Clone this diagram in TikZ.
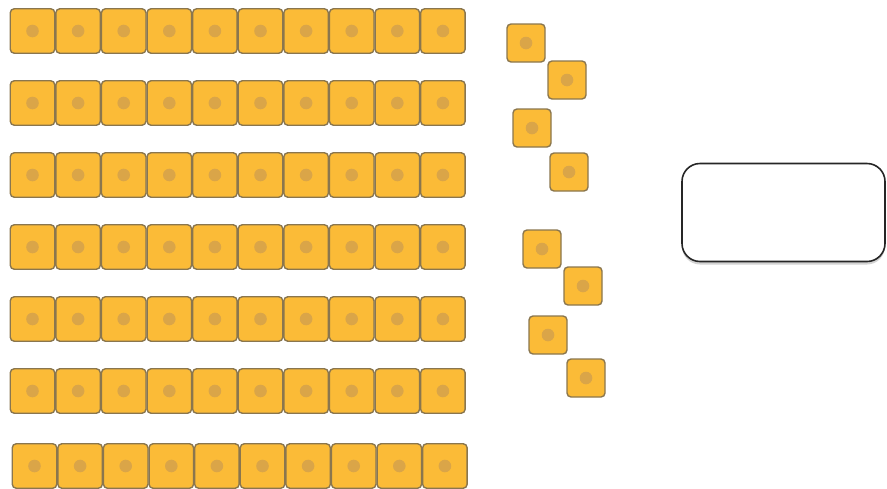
\documentclass[tikz,border=0pt]{standalone}
\usetikzlibrary{shadows}
\definecolor{tilefill}{RGB}{251,187,55}
\definecolor{tileedge}{RGB}{138,118,78}
\definecolor{tiledot}{RGB}{218,165,72}
\tikzset{
  tile/.style={rectangle, rounded corners=4pt, draw=tileedge, fill=tilefill,
    line width=1.4pt, minimum width=#1, minimum height=#1, inner sep=0pt,
    path picture={\fill[tiledot] (path picture bounding box.center) circle (6.3pt);}},
  tile/.default=44.5pt,
  panel/.style={rectangle, rounded corners=18pt, draw=black!85, fill=white,
    line width=1.6pt, minimum width=203pt, minimum height=98pt,
    drop shadow={opacity=0.35, shadow xshift=0pt, shadow yshift=-3pt}}
}
\begin{document}
\begin{tikzpicture}[x=1pt,y=-1pt]
\useasboundingbox (0,0) rectangle (887,488);
\foreach \r/\top/\xs in {1/8/10, 2/80/10, 3/152/10, 4/224/10, 5/296/10, 6/368/10, 7/443/12} {
  \foreach \i in {0,...,9} {
    \node[tile] (t\r-\i) at ({\xs+22.5+\i*45.6},{\top+23}) {};
  }
}
\node[tile=38pt] (la) at (526,43) {};
\node[tile=38pt] (lb) at (567,80) {};
\node[tile=38pt] (lc) at (532,128) {};
\node[tile=38pt] (ld) at (569,172) {};
\node[tile=38pt] (le) at (542,249) {};
\node[tile=38pt] (lf) at (583,286) {};
\node[tile=38pt] (lg) at (548,335) {};
\node[tile=38pt] (lh) at (586,378) {};
\node[panel] (box) at (783.5,212.5) {};
\end{tikzpicture}
\end{document}
